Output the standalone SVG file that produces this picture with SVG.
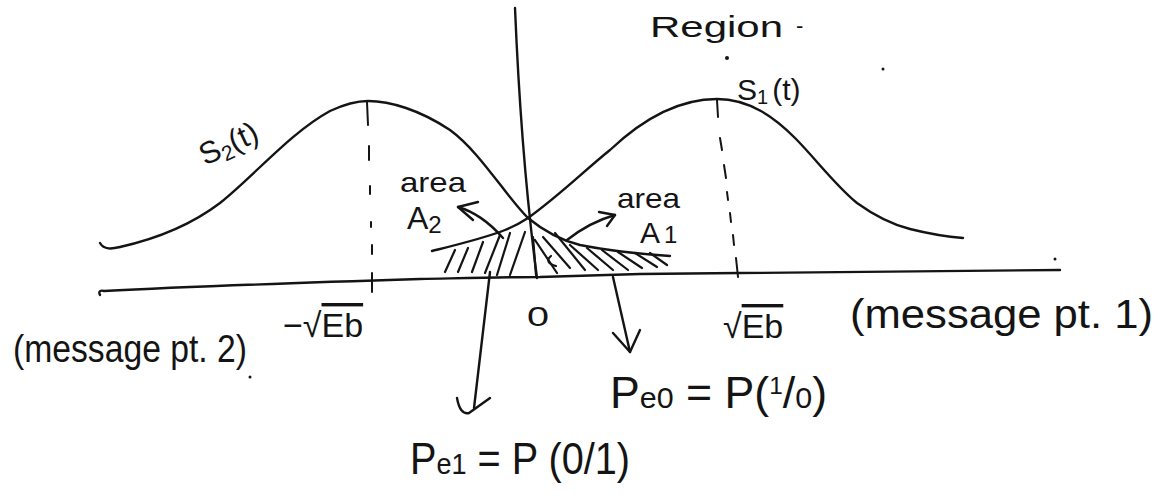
<svg xmlns="http://www.w3.org/2000/svg" width="1161" height="498" viewBox="0 0 1161 498">
<style>
.ln{fill:none;stroke:#141414;stroke-width:2.4;stroke-linecap:round;stroke-linejoin:round}
.hatch{fill:none;stroke:#141414;stroke-width:2.2;stroke-linecap:round}
.dash{fill:none;stroke:#141414;stroke-width:2;stroke-linecap:round}
.t{font-family:"Liberation Sans","DejaVu Sans",sans-serif;fill:#141414}
.dot{fill:#141414}
</style>
<rect width="1161" height="498" fill="#ffffff"/>

<g id="axes">
<path class="ln" d="M100,295 C98,291 101,290 104,291 C180,287 260,284 420,279 C470,278 510,277 540,277 C580,276 610,275 640,274 C800,272 950,271 1060,270"/>
<path class="ln" d="M515,8 C518,80 524,180 537,278"/>
</g>

<g id="curve-s2">
<path class="ln" d="M100,243 C104,250 112,249 120,247 C160,238 195,222 220,203 C255,175 290,133 330,111 C345,104 355,101 368,101 C390,101 420,110 450,130 C480,152 505,195 528,218 C545,232 560,240 580,245 C610,251 640,254 670,256"/>
</g>

<g id="curve-s1">
<path class="ln" d="M432,251 C460,244 485,238 505,230 C515,226 522,222 528,218 C560,195 585,170 610,150 C628,133 668,99 717,99 C750,99 775,118 795,138 C815,158 835,185 857,203 C875,216 890,224 910,229 C930,234 950,237 963,238"/>
</g>

<g id="markers">
<path class="dash" d="M367,102 L368,125 M369,146 L369,160 M370,186 L370,194 M371,222 L371,227 M372,245 L372,254 M372,273 L372,292" />
<path class="dash" d="M717,100 L718,117 M720,138 L722,150 M724,165 L726,178 M727,192 L728,200 M730,213 L731,222 M733,235 L734,245 M736,258 L738,277" />
</g>

<g id="hatch-a2">
<path class="hatch" d="M445,272 L455,250 M458,272 L468,248 M472,272 L483,242 M485,273 L500,235 M497,275 L510,233 M510,275 L525,232"/>
</g>

<g id="hatch-a1">
<path class="hatch" d="M533,237 L536,275 M535,240 L557,273 M543,237 L570,268 M555,233 L585,270 M570,245 L598,270 M587,248 L613,270 M602,250 L628,270 M618,252 L642,268 M635,253 L657,267 M650,253 L667,265"/>
<path class="hatch" d="M556,266 C548,264 546,260 551,256"/>
</g>

<g id="connectors">
<path class="ln" d="M503,238 Q482,214 458,207"/>
<path class="ln" d="M478,202 L458,207 L473,220"/>
<path class="ln" d="M567,240 Q590,222 615,215"/>
<path class="ln" d="M599,212 L615,215 L607,226"/>
<path class="ln" d="M490,272 L474,408"/>
<path class="ln" d="M457,398 Q460,415 469,413 L490,398"/>
<path class="ln" d="M613,277 L630,352"/>
<path class="ln" d="M613,333 L630,352 L640,330"/>
</g>

<g id="labels">
<text class="t" x="650" y="37" font-size="30" textLength="133" lengthAdjust="spacingAndGlyphs">Region</text>
<text class="t" x="796" y="33" font-size="22">-</text>

<text class="t" x="205" y="166" font-size="31" transform="rotate(-25 205 166)">S<tspan font-size="21" dy="5">2</tspan><tspan dy="-5">(t)</tspan></text>
<text class="t" x="737" y="100" font-size="30">S<tspan font-size="20" dy="4">1</tspan><tspan dy="-4" dx="4">(t)</tspan></text>

<text class="t" x="400" y="192" font-size="28" textLength="66" lengthAdjust="spacingAndGlyphs">area</text>
<text class="t" x="407" y="229" font-size="32">A<tspan font-size="24" dy="4">2</tspan></text>

<text class="t" x="617" y="208" font-size="28" textLength="63" lengthAdjust="spacingAndGlyphs">area</text>
<text class="t" x="640" y="243" font-size="30">A<tspan font-size="24" dx="4">1</tspan></text>

<text class="t" x="283" y="337" font-size="34">−√<tspan text-decoration="overline">Eb</tspan></text>
<text class="t" x="527" y="326" font-size="28" textLength="22" lengthAdjust="spacingAndGlyphs">0</text>
<text class="t" x="723" y="338" font-size="34">√<tspan text-decoration="overline">Eb</tspan></text>

<text class="t" x="850" y="328" font-size="40" textLength="303" lengthAdjust="spacingAndGlyphs">(message pt. 1)</text>
<text class="t" x="13" y="362" font-size="38" textLength="234" lengthAdjust="spacingAndGlyphs">(message pt. 2)</text>

<text class="t" x="610" y="408" font-size="44" textLength="217" lengthAdjust="spacingAndGlyphs">P<tspan font-size="30">e0</tspan> = P(<tspan font-size="24" dy="-14">1</tspan><tspan dy="14">/</tspan><tspan font-size="30">0</tspan>)</text>
<text class="t" x="410" y="474" font-size="44" textLength="220" lengthAdjust="spacingAndGlyphs">P<tspan font-size="30">e1</tspan> = P (0/1)</text>
</g>

<g id="dots">
<circle class="dot" cx="727" cy="58" r="2"/>
<circle class="dot" cx="883" cy="69" r="1.5"/>
<circle class="dot" cx="1055" cy="259" r="1.5"/>
<circle class="dot" cx="250" cy="377" r="1.5"/>
</g>
</svg>
